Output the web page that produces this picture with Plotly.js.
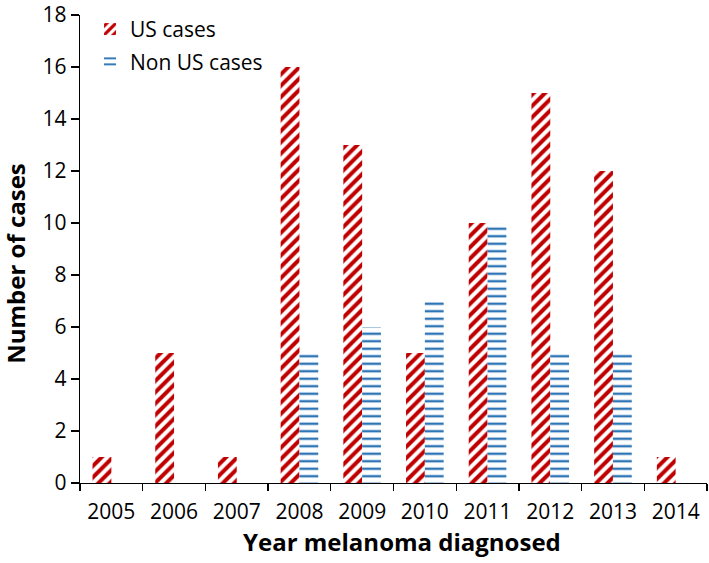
<!DOCTYPE html>
<html>
<head>
<meta charset="utf-8">
<script src="https://cdn.plot.ly/plotly-3.0.1.min.js"></script>
<style>html,body{margin:0;padding:0;background:#fff;}#chart{width:709px;height:563px;}</style>
</head>
<body>
<div id="chart"></div>
<script>
const years = ['2005','2006','2007','2008','2009','2010','2011','2012','2013','2014'];
const usCases = [1,5,1,16,13,5,10,15,12,1];
const nonUsCases = [0,0,0,5,6,7,10,5,5,0];
const seriesNames = ['US cases','Non US cases'];
const yTicks = [0,2,4,6,8,10,12,14,16,18];
const xTitle = 'Year melanoma diagnosed';
const yTitle = 'Number of cases';

const fontFam = '"Open Sans", Lato, sans-serif';

const traces = [
  {
    type: 'bar', x: years, y: usCases, name: seriesNames[0], legendgroup: 'a',
    marker: {color: '#ffffff', line: {width: 0},
      pattern: {shape: '/', fgcolor: '#C00000', bgcolor: '#ffffff', size: 8, solidity: 0.5}}
  },
  {
    type: 'bar', x: years, y: nonUsCases, name: seriesNames[1], legendgroup: 'b',
    marker: {color: '#ffffff', line: {width: 0},
      pattern: {shape: '-', fgcolor: '#2E75B6', bgcolor: '#ffffff', size: 7.5, solidity: 0.32}}
  }
];

const layout = {
  width: 709, height: 563,
  margin: {l: 80, r: 2, t: 15, b: 80},
  paper_bgcolor: '#ffffff', plot_bgcolor: '#ffffff',
  font: {family: fontFam, color: '#000000', size: 21},
  barmode: 'group', bargap: 0.4, bargroupgap: 0,
  showlegend: true,
  legend: {x: 0.016, xanchor: 'left', y: 1.013, yanchor: 'top', bgcolor: 'rgba(0,0,0,0)',
    font: {family: fontFam, size: 21}, traceorder: 'grouped', tracegroupgap: 2},
  xaxis: {
    type: 'category', showline: true, linecolor: '#000', linewidth: 1.3,
    ticks: 'outside', ticklen: 7, tickcolor: '#000', tickwidth: 1.3, tickson: 'boundaries',
    showgrid: false, zeroline: false, ticklabelstandoff: 9,
    tickfont: {family: fontFam, size: 21}
  },
  yaxis: {
    range: [0, 18], tickvals: yTicks, showline: true, linecolor: '#000', linewidth: 1.3,
    ticks: 'outside', ticklen: 8, tickcolor: '#000', tickwidth: 1.3,
    showgrid: false, zeroline: false,
    tickfont: {family: fontFam, size: 21}
  },
  annotations: [
    {text: '<b>' + xTitle + '</b>', xref: 'paper', yref: 'paper', x: 0.514, y: -0.124,
      xanchor: 'center', yanchor: 'middle', showarrow: false, font: {family: fontFam, size: 24}},
    {text: '<b>' + yTitle + '</b>', xref: 'paper', yref: 'paper', x: -0.104, y: 0.47,
      xanchor: 'center', yanchor: 'middle', textangle: -90, showarrow: false, font: {family: fontFam, size: 24}}
  ]
};

Plotly.newPlot('chart', traces, layout, {displayModeBar: false, staticPlot: true});
</script>
</body>
</html>
